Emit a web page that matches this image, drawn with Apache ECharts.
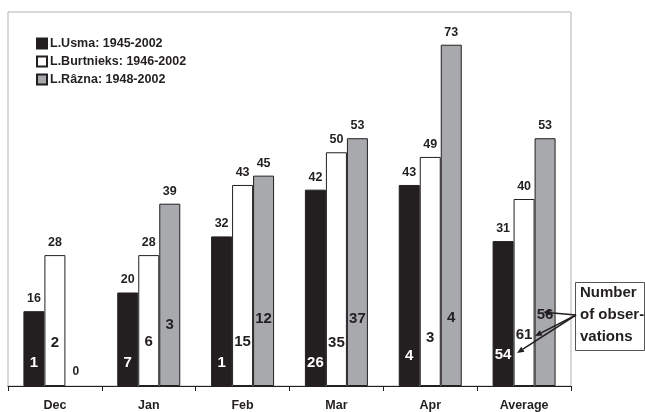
<!DOCTYPE html>
<html>
<head>
<meta charset="utf-8">
<script src="https://cdn.jsdelivr.net/npm/echarts@6/dist/echarts.min.js"></script>
<style>
  html, body { margin: 0; padding: 0; background: #fff; }
  #chart { width: 645px; height: 412px; }
</style>
</head>
<body>
<div id="chart"></div>
<script>
// Monthly values per lake (Dec..Apr plus the average)
const categories = ['Dec', 'Jan', 'Feb', 'Mar', 'Apr', 'Average'];
const seriesNames = ['L.Usma: 1945-2002', 'L.Burtnieks: 1946-2002', 'L.Râzna: 1948-2002'];
const usma = [16, 20, 32, 42, 43, 31];
const burtnieks = [28, 28, 43, 50, 49, 40];
const razna = [null, 39, 45, 53, 73, 53];
// Number of observations behind each bar
const usmaObs = [1, 7, 1, 26, 4, 54];
const burtnieksObs = [2, 6, 15, 35, 3, 61];
const raznaObs = [0, 3, 12, 37, 4, 56];

// Height (px above the axis) of each observation-count label centre
const usmaLift = [23, 23, 23, 23, 30, 31];
const burtnieksLift = [43, 44, 44, 43, 48, 51];
const raznaLift = [14, 61, 67, 67, 68, 71];

const FONT = '"Liberation Sans", Arial, sans-serif';
const INK = '#231f20';
const GREY = '#a7a9ac';
const BAR_W = 21;

const fills = [INK, '#ffffff', GREY];
const values = [usma, burtnieks, razna];
const counts = [usmaObs, burtnieksObs, raznaObs];
const lifts = [usmaLift, burtnieksLift, raznaLift];
const countColors = ['#ffffff', INK, INK];

const mainSeries = values.map((vals, i) => ({
  name: seriesNames[i],
  type: 'bar',
  xAxisIndex: 0,
  barWidth: BAR_W,
  barGap: '0%',
  data: vals,
  itemStyle: { color: fills[i], borderColor: INK, borderWidth: 1 },
  label: {
    show: true,
    position: 'top',
    distance: 6,
    color: INK,
    fontFamily: FONT,
    fontWeight: 'bold',
    fontSize: 12.5
  },
  silent: true
}));

// Transparent copies of the bars carrying the observation counts
const countSeries = values.map((vals, i) => ({
  name: 'obs' + i,
  type: 'bar',
  xAxisIndex: 1,
  barWidth: BAR_W,
  barGap: '0%',
  silent: true,
  z: 3,
  itemStyle: { color: 'rgba(0,0,0,0)', borderWidth: 0 },
  data: vals.map((v, j) => {
    const small = counts[i][j] === 0;
    const fs = small ? 12 : 15;
    return {
      value: v == null ? 0 : v,
      label: {
        show: true,
        position: 'insideBottom',
        distance: lifts[i][j] - fs / 2,
        formatter: String(counts[i][j]),
        color: countColors[i],
        fontFamily: FONT,
        fontWeight: 'bold',
        fontSize: fs
      }
    };
  })
}));

function arrow(x1, y1, x2, y2) {
  const ang = Math.atan2(y2 - y1, x2 - x1);
  const len = 7, half = 3;
  const bx = x2 - len * Math.cos(ang), by = y2 - len * Math.sin(ang);
  const px = -Math.sin(ang) * half, py = Math.cos(ang) * half;
  return [
    { type: 'line', z: 100, shape: { x1: x1, y1: y1, x2: bx, y2: by }, style: { stroke: INK, lineWidth: 1.5 }, silent: true },
    { type: 'polygon', z: 100, shape: { points: [[x2, y2], [bx + px, by + py], [bx - px, by - py]] }, style: { fill: INK }, silent: true }
  ];
}

const noteLines = ['Number', 'of obser-', 'vations'];
const graphics = [
  { type: 'rect', z: 100, shape: { x: 575.5, y: 282.5, width: 69, height: 68 }, style: { fill: '#fff', stroke: '#555', lineWidth: 1 }, silent: true },
  ...noteLines.map((t, k) => ({
    type: 'text', z: 101, x: 580, y: 293 + k * 22,
    style: { text: t, font: 'bold 15px ' + FONT, fill: INK, verticalAlign: 'middle', align: 'left' },
    silent: true
  })),
  ...arrow(576, 315, 543, 312),
  ...arrow(576, 315, 535, 336),
  ...arrow(576, 315, 517, 353)
];

const chart = echarts.init(document.getElementById('chart'), null, { renderer: 'canvas' });
chart.setOption({
  animation: false,
  backgroundColor: '#fff',
  textStyle: { fontFamily: FONT },
  grid: {
    left: 8, right: 74, top: 12, bottom: 26,
    show: true, borderColor: '#b3b3b3', borderWidth: 1, backgroundColor: '#fff'
  },
  legend: {
    data: seriesNames,
    orient: 'vertical',
    left: 31, top: 32,
    itemWidth: 10, itemHeight: 10, itemGap: 5,
    icon: 'rect',
    textStyle: { color: INK, fontFamily: FONT, fontWeight: 'bold', fontSize: 12.5, padding: [0, 0, 0, -2] },
    selectedMode: false
  },
  xAxis: [
    {
      type: 'category',
      data: categories,
      axisLine: { lineStyle: { color: INK, width: 1 } },
      axisTick: { show: true, length: 5, lineStyle: { color: INK } },
      axisLabel: { color: INK, fontFamily: FONT, fontWeight: 'bold', fontSize: 12.5, margin: 13 }
    },
    { type: 'category', data: categories, show: false }
  ],
  yAxis: { type: 'value', min: 0, max: 80, show: false, splitLine: { show: false } },
  series: [...mainSeries, ...countSeries],
  graphic: graphics
});
</script>
</body>
</html>
